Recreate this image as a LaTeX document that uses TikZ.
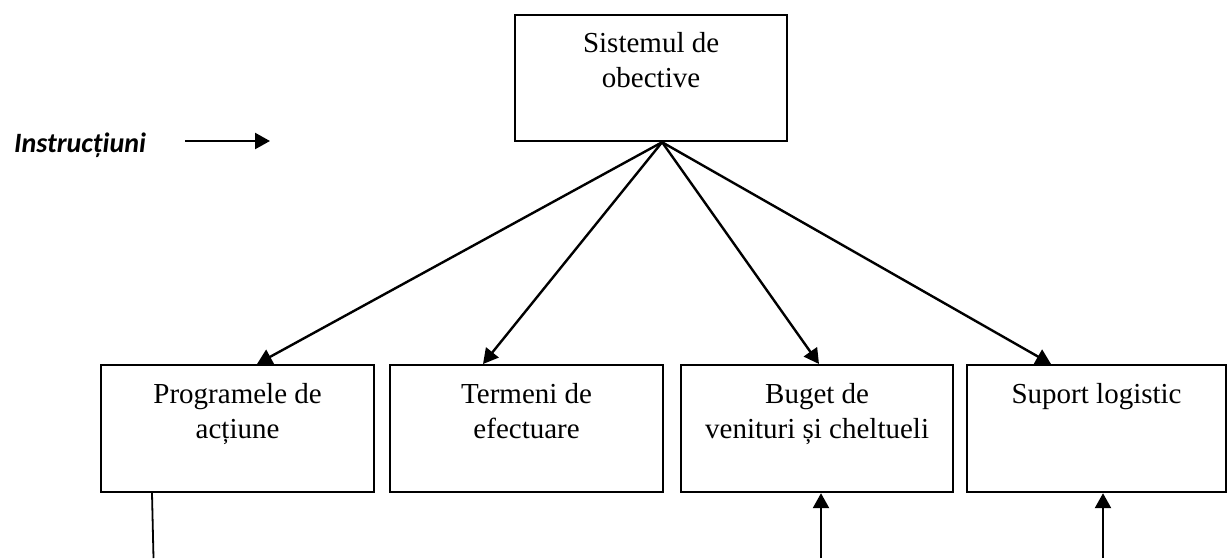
\documentclass[tikz,border=0pt]{standalone}
\usepackage{fontspec}
\setmainfont{Liberation Serif}
\newfontfamily\insfont{Carlito}
\usetikzlibrary{arrows.meta}
\begin{document}
\begin{tikzpicture}[x=1pt,y=-1pt,
  box/.style={draw, line width=2.2pt, minimum width=#1, minimum height=127pt, inner sep=0pt, anchor=north west},
  lbl/.style={align=center, inner sep=0pt, anchor=north, font=\fontsize{29}{35}\selectfont},
  conn/.style={line width=2.4pt, -{Triangle[length=15pt, width=16pt]}},
  plain/.style={line width=1.8pt}]
\useasboundingbox[fill=white] (0,0) rectangle (1227,558);
% boxes
\node[box=272, minimum height=126pt] (top) at (514,14) {};
\node[box=273] (b1) at (100,364) {};
\node[box=273] (b2) at (389,364) {};
\node[box=272] (b3) at (680,364) {};
\node[box=259] (b4) at (966,364) {};
% texts
\node[lbl] (ttop) at ([yshift=-18pt]top.north) {Sistemul de\\obective};
\node[lbl] (t1) at ([yshift=-19pt]b1.north) {Programele de\\acțiune};
\node[lbl] (t2) at ([yshift=-19pt]b2.north) {Termeni de\\efectuare};
\node[lbl] (t3) at ([yshift=-19pt]b3.north) {Buget de\\venituri și cheltueli};
\node[lbl] (t4) at ([yshift=-19pt]b4.north) {Suport logistic};
\node[anchor=base west, inner sep=0pt, font=\insfont\bfseries\itshape\fontsize{28}{33}\selectfont] (ins) at (14,152) {Instrucțiuni};
% connectors from the top box
\coordinate (apex) at ([xshift=11pt]top.south);
\draw[conn] (apex) -- ([xshift=157pt]b1.north west);
\draw[conn] (apex) -- ([xshift=94pt]b2.north west);
\draw[conn] (apex) -- ([xshift=139pt]b3.north west);
\draw[conn] (apex) -- ([xshift=85pt]b4.north west);
% instruction arrow
\coordinate (insA) at (185,141);
\coordinate (insB) at (270,141);
\draw[conn] (insA) -- (insB);
% lower lines
\coordinate (low1) at (153.5,558);
\coordinate (low3) at (821,558);
\coordinate (low4) at (1103,558);
\draw[plain] ([xshift=52pt]b1.south west) -- (low1);
\draw[conn] (low3) -- ([xshift=141pt]b3.south west);
\draw[conn] (low4) -- ([xshift=137pt]b4.south west);
\end{tikzpicture}
\end{document}
